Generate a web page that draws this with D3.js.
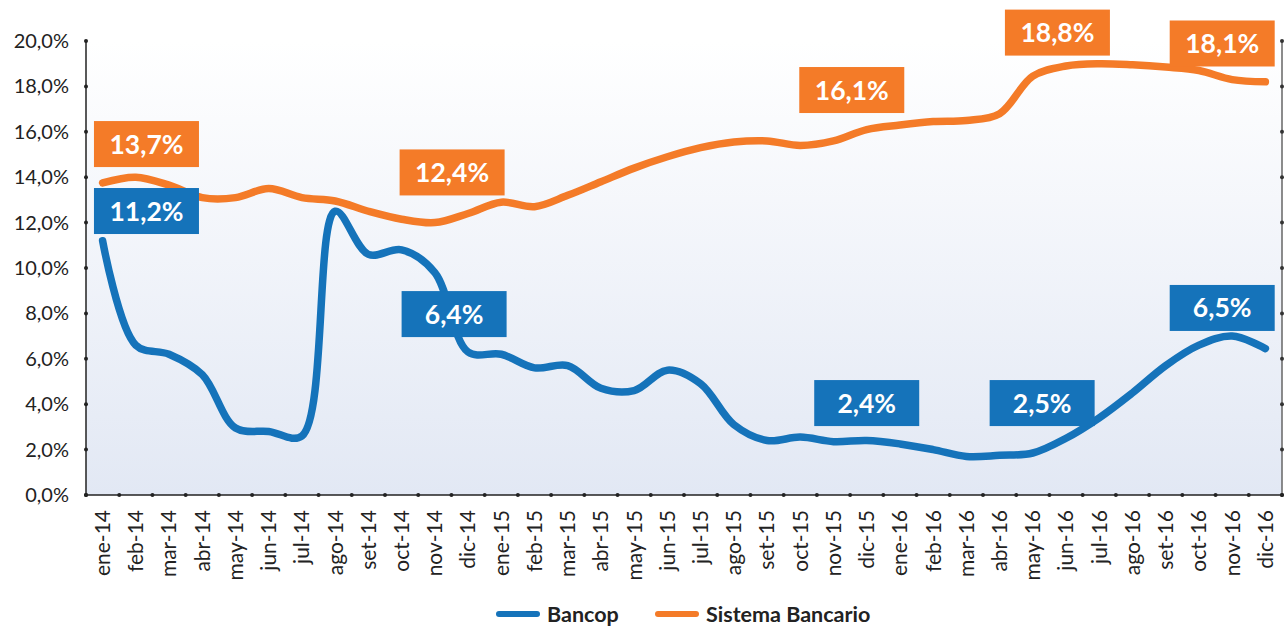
<!DOCTYPE html>
<html>
<head>
<meta charset="utf-8">
<script src="https://cdn.jsdelivr.net/npm/d3@7"></script>
<style>
  body { margin: 0; background: #fff; }
  text { font-family: Lato, "Noto Sans", sans-serif; }
</style>
</head>
<body>
<script>
var months = ["ene-14","feb-14","mar-14","abr-14","may-14","jun-14","jul-14","ago-14","set-14","oct-14","nov-14","dic-14",
              "ene-15","feb-15","mar-15","abr-15","may-15","jun-15","jul-15","ago-15","set-15","oct-15","nov-15","dic-15",
              "ene-16","feb-16","mar-16","abr-16","may-16","jun-16","jul-16","ago-16","set-16","oct-16","nov-16","dic-16"];

var bancop = [11.2, 6.6, 6.2, 5.3, 2.95, 2.8, 2.6, 12.5, 10.6, 10.8, 9.8, 6.3,
              6.2, 5.6, 5.7, 4.7, 4.6, 5.5, 4.9, 3.1, 2.4, 2.55, 2.35, 2.4,
              2.25, 2.0, 1.7, 1.75, 1.85, 2.5, 3.4, 4.5, 5.7, 6.6, 7.0, 6.45];

var sistema = [13.75, 14.0, 13.65, 13.1, 13.1, 13.5, 13.1, 12.95, 12.5, 12.15, 12.0, 12.4,
               12.9, 12.7, 13.2, 13.8, 14.4, 14.9, 15.3, 15.55, 15.6, 15.4, 15.6, 16.1,
               16.3, 16.45, 16.5, 16.8, 18.45, 18.9, 19.0, 18.95, 18.85, 18.7, 18.3, 18.2];

var yTicks = [0, 2, 4, 6, 8, 10, 12, 14, 16, 18, 20];

// data labels: text, series, position (category index, fractional), vertical centre (in %)
var labelText   = ["13,7%", "11,2%", "12,4%", "6,4%", "16,1%", "18,8%", "18,1%", "2,4%", "2,5%", "6,5%"];
var labelSeries = ["s", "b", "s", "b", "s", "s", "s", "b", "b", "b"];
var labelPos    = [1.32, 1.32, 10.52, 10.58, 22.55, 28.74, 33.7, 23.0, 28.28, 33.7];
var labelY      = [15.46, 12.51, 14.21, 7.97, 17.84, 20.37, 19.89, 4.05, 4.05, 8.24];

var blue = "#1573ba", orange = "#f47b28";

var W = 1286, H = 626;
var pLeft = 86, pRight = 1282, pTop = 41, pBottom = 495;

var svg = d3.select("body").append("svg").attr("width", W).attr("height", H);

var x = d3.scaleBand().domain(months).range([pLeft, pRight]).padding(0);
var xi = d3.scaleLinear().domain([-0.5, months.length - 0.5]).range([pLeft, pRight]);
var y = d3.scaleLinear().domain([0, 20]).range([pBottom, pTop]);

var defs = svg.append("defs");
var grad = defs.append("linearGradient").attr("id", "bg").attr("x1", 0).attr("y1", 0).attr("x2", 0).attr("y2", 1);
grad.append("stop").attr("offset", "0%").attr("stop-color", "#ffffff");
grad.append("stop").attr("offset", "100%").attr("stop-color", "#e2e8f4");

svg.append("rect")
  .attr("x", pLeft).attr("y", pTop)
  .attr("width", pRight - pLeft).attr("height", pBottom - pTop)
  .attr("fill", "url(#bg)");

// left axis
svg.append("line").attr("x1", pLeft).attr("x2", pLeft).attr("y1", pTop).attr("y2", pBottom)
  .attr("stroke", "#222").attr("stroke-width", 1.5);
svg.selectAll(".ldot").data(yTicks).enter().append("circle")
  .attr("cx", pLeft).attr("cy", function(d) { return y(d); }).attr("r", 2).attr("fill", "#222");
svg.selectAll(".ylab").data(yTicks).enter().append("text")
  .attr("x", 69).attr("y", function(d) { return y(d); })
  .attr("dy", "0.35em").attr("text-anchor", "end")
  .attr("font-size", 20).attr("fill", "#222")
  .text(function(d) { return d.toFixed(1).replace(".", ",") + "%"; });

// right axis
svg.append("line").attr("x1", pRight).attr("x2", pRight).attr("y1", pTop).attr("y2", pBottom)
  .attr("stroke", "#666").attr("stroke-width", 1.5);
svg.selectAll(".rdot").data(yTicks).enter().append("circle")
  .attr("cx", pRight).attr("cy", function(d) { return y(d); }).attr("r", 2).attr("fill", "#333");

// bottom axis
svg.append("line").attr("x1", pLeft).attr("x2", pRight).attr("y1", pBottom).attr("y2", pBottom)
  .attr("stroke", "#222").attr("stroke-width", 1.5);
var bounds = d3.range(months.length + 1);
svg.selectAll(".bdot").data(bounds).enter().append("circle")
  .attr("cx", function(d) { return xi(d - 0.5); }).attr("cy", pBottom).attr("r", 2).attr("fill", "#222");
svg.selectAll(".xlab").data(months).enter().append("text")
  .attr("transform", function(d) { return "translate(" + (x(d) + x.bandwidth() / 2) + "," + 510 + ") rotate(-90)"; })
  .attr("dy", "0.35em").attr("text-anchor", "end")
  .attr("font-size", 21).attr("fill", "#222")
  .text(function(d) { return d; });

// lines
var line = d3.line()
  .x(function(d, i) { return x(months[i]) + x.bandwidth() / 2; })
  .y(function(d) { return y(d); })
  .curve(d3.curveCatmullRom.alpha(0.5));

svg.append("path").datum(sistema).attr("d", line)
  .attr("fill", "none").attr("stroke", orange).attr("stroke-width", 7.5).attr("stroke-linecap", "round");
svg.append("path").datum(bancop).attr("d", line)
  .attr("fill", "none").attr("stroke", blue).attr("stroke-width", 7.5).attr("stroke-linecap", "round");

// data labels
var bw = 105, bh = 46;
var lab = svg.selectAll(".dl").data(labelText).enter().append("g")
  .attr("transform", function(d, i) { return "translate(" + xi(labelPos[i]) + "," + y(labelY[i]) + ")"; });
lab.append("rect")
  .attr("x", -bw / 2).attr("y", -bh / 2).attr("width", bw).attr("height", bh)
  .attr("fill", function(d, i) { return labelSeries[i] == "s" ? orange : blue; });
lab.append("text")
  .attr("text-anchor", "middle").attr("dy", "0.36em")
  .attr("font-size", 26.5).attr("font-weight", "bold").attr("fill", "#fff")
  .text(function(d) { return d; });

// legend
var legend = [["Bancop", blue, 497], ["Sistema Bancario", orange, 656]];
var lg = svg.selectAll(".lg").data(legend).enter().append("g")
  .attr("transform", function(d) { return "translate(" + d[2] + ",614)"; });
lg.append("line").attr("x1", 2).attr("x2", 40).attr("y1", 0).attr("y2", 0)
  .attr("stroke", function(d) { return d[1]; }).attr("stroke-width", 6).attr("stroke-linecap", "round");
lg.append("text").attr("x", 50).attr("dy", "0.35em")
  .attr("font-size", 21.5).attr("font-weight", "bold").attr("fill", "#222")
  .text(function(d) { return d[0]; });
</script>
</body>
</html>
